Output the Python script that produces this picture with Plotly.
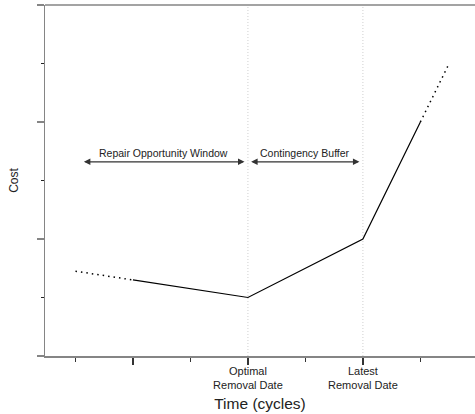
import plotly.graph_objects as go

# Cost curve over time (cycles); dotted ends are extrapolated segments
lead_x = [1, 2]
lead_y = [1.45, 1.3]
main_x = [2, 4, 6, 7]
main_y = [1.3, 1.0, 2.0, 4.0]
tail_x = [7, 7.5]
tail_y = [4.0, 5.0]

# Key dates on the time axis
date_vals = [2, 4, 6]
date_text = ["", "Optimal<br>Removal Date", "Latest<br>Removal Date"]
minor_x = [1, 3, 5, 7]

# Intervals marked with double-headed arrows: (start, end, label)
windows = [
    (1.12, 3.94, "Repair Opportunity Window"),
    (4.03, 5.94, "Contingency Buffer"),
]
window_y = 3.32

FONT = "Liberation Sans, Arial, sans-serif"
AXIS_GREY = "#858585"
INK = "#222222"
DOTS = "1.5px,4px"

fig = go.Figure()

fig.add_trace(go.Scatter(x=lead_x, y=lead_y, mode="lines",
                         line=dict(color="black", width=1.5, dash=DOTS),
                         showlegend=False, hoverinfo="skip"))
fig.add_trace(go.Scatter(x=main_x, y=main_y, mode="lines",
                         line=dict(color="black", width=1.2),
                         showlegend=False))
fig.add_trace(go.Scatter(x=tail_x, y=tail_y, mode="lines",
                         line=dict(color="black", width=1.5, dash=DOTS),
                         showlegend=False, hoverinfo="skip"))

# Reference lines at the optimal and latest removal dates
for xv in date_vals[1:]:
    fig.add_vline(x=xv, line=dict(color="#cfcfcf", width=1, dash="1px,2px"),
                  layer="below")

# Top frame line
fig.add_shape(type="line", xref="paper", yref="paper", x0=0, x1=1, y0=1, y1=1,
              line=dict(color=AXIS_GREY, width=1.5))

for x0, x1, label in windows:
    fig.add_annotation(x=x1, y=window_y, ax=x0, ay=window_y,
                       xref="x", yref="y", axref="x", ayref="y",
                       text="", showarrow=True, arrowside="end+start",
                       arrowhead=2, arrowsize=1, arrowwidth=1.3,
                       arrowcolor="#333333", standoff=0, startstandoff=0)
    fig.add_annotation(x=(x0 + x1) / 2, y=window_y, xref="x", yref="y",
                       text=label, showarrow=False, yshift=9,
                       font=dict(family=FONT, size=10.5, color=INK))

fig.update_layout(
    width=475, height=414,
    margin=dict(l=45, r=0, t=5, b=58),
    paper_bgcolor="white", plot_bgcolor="white",
    font=dict(family=FONT, color=INK),
    xaxis=dict(
        range=[0.47, 7.95], showgrid=False, zeroline=False,
        showline=True, linecolor=AXIS_GREY, linewidth=1.5,
        tickmode="array", tickvals=date_vals, ticktext=date_text,
        ticks="outside", ticklen=7, tickwidth=1.2, tickcolor="#333333",
        ticklabelstandoff=-3,
        tickfont=dict(family=FONT, size=11, color=INK),
        minor=dict(tickvals=minor_x, ticks="outside", ticklen=4,
                   tickwidth=1.2, tickcolor="#333333"),
        title=dict(text="Time (cycles)", standoff=8,
                   font=dict(family=FONT, size=15.5, color=INK)),
    ),
    yaxis=dict(
        range=[0, 6], showgrid=False, zeroline=False,
        showline=True, linecolor=AXIS_GREY, linewidth=1.5,
        tickmode="array", tickvals=[0, 2, 4, 6], showticklabels=False,
        ticks="outside", ticklen=7, tickwidth=1.5, tickcolor=AXIS_GREY,
        minor=dict(tickvals=[1, 3, 5], ticks="outside", ticklen=3,
                   tickwidth=1.2, tickcolor="#222222"),
        title=dict(text="Cost", standoff=15,
                   font=dict(family=FONT, size=12, color=INK)),
    ),
)

fig.write_html("out.html", config={"staticPlot": True})
